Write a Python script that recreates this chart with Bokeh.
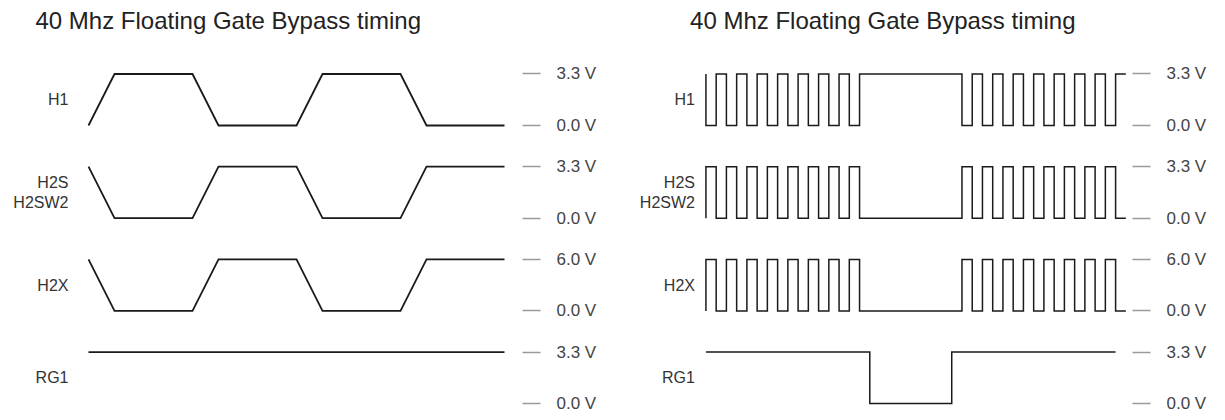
from bokeh.plotting import figure
from bokeh.layouts import row
from bokeh.models import Range1d, FixedTicker, LinearAxis, Label
from bokeh.core.properties import value
from bokeh.embed import file_html
from bokeh.resources import INLINE

TITLE = "40 Mhz Floating Gate Bypass timing"

# Signals (top to bottom)
signal_names = ["H1", "H2S\nH2SW2", "H2X", "RG1"]
high_labels = ["3.3 V", "3.3 V", "6.0 V", "3.3 V"]
low_labels = ["0.0 V", "0.0 V", "0.0 V", "0.0 V"]

# Left panel: trapezoid clocks, vertices (time, logic state)
left_h1_t = [0, 1, 4, 5, 8, 9, 12, 13, 16]
left_h1_s = [0, 1, 1, 0, 0, 1, 1, 0, 0]
left_h2s_t = [0, 1, 4, 5, 8, 9, 12, 13, 16]
left_h2s_s = [1, 0, 0, 1, 1, 0, 0, 1, 1]
left_h2x_t = [0, 1, 4, 5, 8, 9, 12, 13, 16]
left_h2x_s = [1, 0, 0, 1, 1, 0, 0, 1, 1]
left_rg1_t = [0, 16]
left_rg1_s = [1, 1]

# Right panel: square clocks, edge times, starting state, end time
right_h1_edges = [0, 1, 2, 3, 4, 5, 6, 7, 8, 9, 10, 11, 12, 13, 14, 15,
                  25, 26, 27, 28, 29, 30, 31, 32, 33, 34, 35, 36, 37, 38, 39, 40]
right_h1_start = 1
right_h1_end = 41
right_h2s_edges = [0, 1, 2, 3, 4, 5, 6, 7, 8, 9, 10, 11, 12, 13, 14, 15,
                   25, 26, 27, 28, 29, 30, 31, 32, 33, 34, 35, 36, 37, 38, 39, 40]
right_h2s_start = 0
right_h2s_end = 41
right_h2x_edges = [0, 1, 2, 3, 4, 5, 6, 7, 8, 9, 10, 11, 12, 13, 14, 15,
                   25, 26, 27, 28, 29, 30, 31, 32, 33, 34, 35, 36, 37, 38, 39, 40]
right_h2x_start = 0
right_h2x_end = 41
right_rg1_edges = [16, 24]
right_rg1_start = 1
right_rg1_end = 40

PITCH = 18      # vertical distance between tracks (data units)
AMP = 10        # drawn height of a high level

FONT = "Liberation Sans"


def square(edges, start, end):
    xs, ys = [0], [start]
    cur = start
    for e in edges:
        xs.append(e); ys.append(cur)
        cur = 1 - cur
        xs.append(e); ys.append(cur)
    xs.append(end); ys.append(cur)
    return xs, ys


def make_panel(width, xr, right_border, waves, lw, label_x, title_x):
    p = figure(width=width, height=412, x_range=xr,
               y_range=Range1d(-55.73, 24.27),
               output_backend="svg", toolbar_location=None,
               x_axis_location=None, y_axis_location=None,
               min_border_left=0, min_border_right=right_border,
               min_border_top=0, min_border_bottom=0)
    p.outline_line_color = None
    p.grid.grid_line_color = None
    p.background_fill_color = "white"

    ticks, overrides = [], {}
    for i, (ts, ss) in enumerate(waves):
        base = -PITCH * i
        p.line(ts, [base + AMP * s for s in ss], line_color="#1a1a1a",
               line_width=lw, line_join="miter")
        ticks += [base + AMP, base]
        overrides[base + AMP] = high_labels[i]
        overrides[base] = low_labels[i]

    p.text(x=[label_x] * len(signal_names),
           y=[-PITCH * i + AMP / 2 for i in range(len(signal_names))],
           text=signal_names, text_align="right", text_baseline="middle",
           text_font=value(FONT), text_font_size="16px", text_color="#333333",
           text_line_height=1.15)

    ax = LinearAxis(ticker=FixedTicker(ticks=ticks),
                    major_label_overrides=overrides,
                    axis_line_color=None, major_tick_in=0, major_tick_out=18,
                    major_tick_line_color="#9a9a9a", major_tick_line_width=1.5,
                    minor_tick_line_color=None, major_label_standoff=16,
                    major_label_text_font=FONT,
                    major_label_text_font_size="17px",
                    major_label_text_color="#444444")
    p.add_layout(ax, "right")

    p.add_layout(Label(x=title_x, y=20.4, text=TITLE, text_font=FONT,
                       text_font_size="24px", text_baseline="middle",
                       text_color="#222222"))
    return p


left_waves = [(left_h1_t, left_h1_s), (left_h2s_t, left_h2s_s),
              (left_h2x_t, left_h2x_s), (left_rg1_t, left_rg1_s)]
right_waves = [square(right_h1_edges, right_h1_start, right_h1_end),
               square(right_h2s_edges, right_h2s_start, right_h2s_end),
               square(right_h2x_edges, right_h2x_start, right_h2x_end),
               square(right_rg1_edges, right_rg1_start, right_rg1_end)]

p1 = make_panel(604, Range1d(-3.385, 16.692), 82, left_waves, 1.8, -0.77, -2.04)
p2 = make_panel(605, Range1d(-9.903, 41.65), 74, right_waves, 1.5, -1.07, -1.55)

layout = row(p1, p2)
open("out.html", "w").write(file_html(layout, INLINE))
